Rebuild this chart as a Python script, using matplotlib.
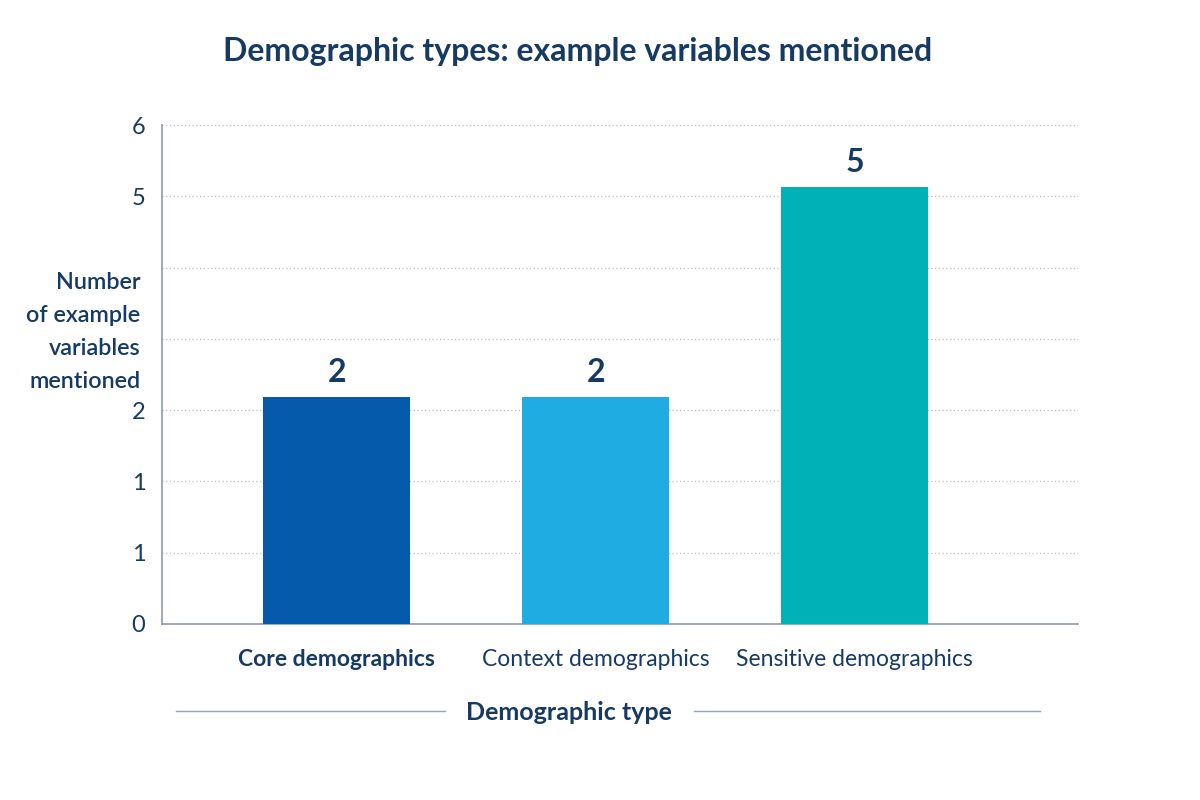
import numpy as np
import matplotlib
matplotlib.use("Agg")
import matplotlib.pyplot as plt
from matplotlib.lines import Line2D

plt.rcParams['font.family'] = ['Lato', 'DejaVu Sans']

# data
categories = ['Core demographics', 'Context demographics', 'Sensitive demographics']
counts = [2, 2, 5]
bar_colors = ['#065aab', '#1eace3', '#00b2b8']
ytick_labels = ['0', '1', '1', '2', '', '', '5', '6']

navy = '#163a62'
# the axis baseline sits below the value zero in the original picture
y_lo, y_hi = -1.243, 5.886

fig = plt.figure(figsize=(12, 8), dpi=100)
ax = fig.add_axes([0.135, 0.22, 0.763, 0.62375])

x = np.arange(len(categories))
heights = np.array(counts) - y_lo
bars = ax.bar(x, heights, width=0.565, bottom=y_lo, color=bar_colors, zorder=3)
for xi, v in zip(x, counts):
    ax.text(xi, v + 0.14, str(v), ha='center', va='bottom',
            fontsize=23, fontweight='bold', color=navy)

ax.set_xlim(-0.674, 2.861)
ax.set_ylim(y_lo, y_hi)

yt = np.linspace(y_lo, y_hi, len(ytick_labels))
ax.set_yticks(yt)
ax.set_yticklabels(ytick_labels, fontsize=17, color=navy)
ax.tick_params(axis='y', length=0, pad=12)
ax.grid(axis='y', linestyle=(0, (1, 2)), color='#b8bec8', linewidth=0.9, zorder=0)

ax.set_xticks(x)
ax.set_xticklabels(categories, fontsize=16.5, color=navy)
ax.get_xticklabels()[0].set_fontweight('bold')
ax.tick_params(axis='x', length=0, pad=18)

for s in ['top', 'right']:
    ax.spines[s].set_visible(False)
for s in ['left', 'bottom']:
    ax.spines[s].set_color('#8d99ad')
    ax.spines[s].set_linewidth(1.2)

fig.text(0.117, 0.585, 'Number\nof example\nvariables\nmentioned', ha='right', va='center',
         fontsize=16.8, fontweight='semibold', color=navy, linespacing=1.72)

fig.text(0.474, 0.11, 'Demographic type', ha='center', va='center',
         fontsize=18, fontweight='bold', color=navy)
fig.add_artist(Line2D([0.147, 0.371], [0.111, 0.111], color='#8fa3c2', lw=1.0))
fig.add_artist(Line2D([0.578, 0.867], [0.111, 0.111], color='#8fa3c2', lw=1.0))

fig.text(0.481, 0.935, 'Demographic types: example variables mentioned', ha='center', va='center',
         fontsize=23, fontweight='bold', color=navy)

fig.savefig('out.png', dpi=100, facecolor='white')
